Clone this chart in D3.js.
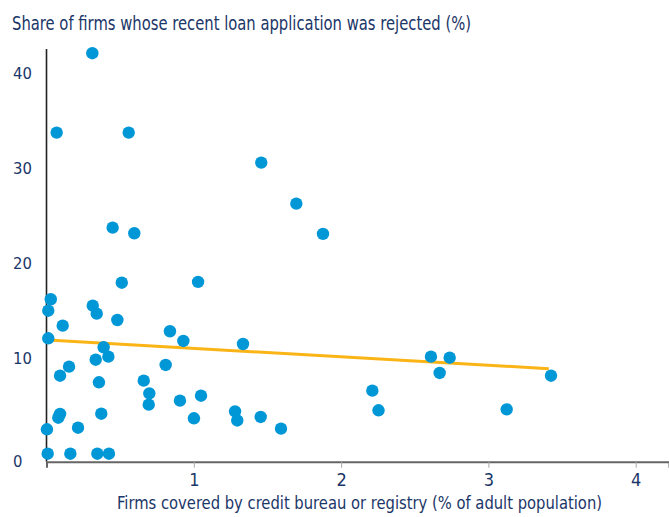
<!DOCTYPE html>
<html>
<head>
<meta charset="utf-8">
<script src="https://cdn.jsdelivr.net/npm/d3@7"></script>
<style>
  html, body { margin: 0; padding: 0; background: #fff; }
  svg { display: block; }
  text { font-family: "Liberation Sans Narrow", "DejaVu Sans Condensed", "Roboto Condensed", sans-serif; fill: #1b3668; }
</style>
</head>
<body>
<svg id="chart" width="669" height="517"></svg>
<script>
// Firms covered by credit bureau or registry (% of adult population)
const coverage = [0.311, 0.069, 0.558, 1.458, 1.696, 1.877, 0.449, 0.596, 0.511, 1.029,
  0.029, 0.012, 0.314, 0.341, 0.110, 0.481, 0.838, 0.012, 0.929, 1.334,
  0.388, 0.420, 0.334, 0.153, 0.092, 0.809, 0.356, 0.660, 0.698, 0.694,
  0.906, 1.049, 1.001, 1.280, 1.295, 1.454, 1.592, 0.372, 0.092, 0.080,
  0.003, 0.214, 0.008, 0.162, 0.345, 0.424, 2.212, 2.254, 2.610, 2.737,
  2.669, 3.425, 3.124];
// Share of firms whose recent loan application was rejected (%)
const rejected = [42.06, 33.72, 33.72, 30.57, 26.26, 23.08, 23.74, 23.15, 17.96, 18.04,
  16.22, 15.02, 15.55, 14.71, 13.45, 14.04, 12.86, 12.12, 11.84, 11.52,
  11.18, 10.19, 9.87, 9.14, 8.19, 9.32, 7.50, 7.67, 6.34, 5.15,
  5.57, 6.09, 3.72, 4.45, 3.49, 3.86, 2.63, 4.20, 4.17, 3.78,
  2.56, 2.73, 0.0, 0.0, 0.0, 0.0, 6.62, 4.56, 10.19, 10.08,
  8.48, 8.19, 4.66];
// Fitted trend line end points
const trendX = [0.01, 3.41];
const trendY = [11.94, 8.93];
// Tick labels
const xTicks = [1, 2, 3, 4];
const yTicks = [0, 10, 20, 30, 40];
const titleY = "Share of firms whose recent loan application was rejected (%)";
const titleX = "Firms covered by credit bureau or registry (% of adult population)";

const svg = d3.select("#chart");
const x = d3.scaleLinear().domain([0, 4.226]).range([46.5, 669]);
const y = d3.scaleLinear().domain([-0.84, 42.5]).range([461.7, 49]);

// Title
svg.append("text").attr("x", 12).attr("y", 30)
  .attr("font-size", 19.5).attr("textLength", 459).attr("lengthAdjust", "spacingAndGlyphs")
  .text(titleY);

// Y axis line
svg.append("line").attr("x1", x(0)).attr("x2", x(0))
  .attr("y1", y(42.5)).attr("y2", y(-0.84))
  .attr("stroke", "#222").attr("stroke-width", 1.6);

// X axis
const xAxis = d3.axisBottom(x).tickValues(xTicks).tickSize(6).tickFormat(d3.format("d"));
const gx = svg.append("g").attr("transform", `translate(0,${y(-0.84)})`).call(xAxis);
gx.select(".domain").attr("stroke", "#666").attr("stroke-width", 2);
gx.selectAll(".tick line").attr("stroke", "#aaa").attr("stroke-width", 1);
gx.selectAll(".tick text").attr("font-size", 18).attr("fill", "#1b3668")
  .attr("y", 12).attr("dy", "0.71em")
  .style("font-family", "\"Liberation Sans Narrow\", \"DejaVu Sans Condensed\", sans-serif");

// Y tick labels
svg.selectAll("text.ylab").data(yTicks).enter().append("text")
  .attr("class", "ylab")
  .attr("x", 13)
  .attr("y", d => d === 0 ? y(-0.84) : y(d))
  .attr("dy", "0.35em")
  .attr("font-size", 16.5)
  .text(d => d);

// X axis title
svg.append("text").attr("x", 117).attr("y", 509)
  .attr("font-size", 18.5).attr("textLength", 485).attr("lengthAdjust", "spacingAndGlyphs")
  .text(titleX);

// Trend line
svg.append("line")
  .attr("x1", x(trendX[0])).attr("y1", y(trendY[0]))
  .attr("x2", x(trendX[1])).attr("y2", y(trendY[1]))
  .attr("stroke", "#fbb416").attr("stroke-width", 3);

// Points
const pts = coverage.map((c, i) => ({c, r: rejected[i]}));
svg.append("g").selectAll("circle").data(pts).enter().append("circle")
  .attr("cx", d => x(d.c)).attr("cy", d => y(d.r)).attr("r", 6.2)
  .attr("fill", "#0097d7");
</script>
</body>
</html>
